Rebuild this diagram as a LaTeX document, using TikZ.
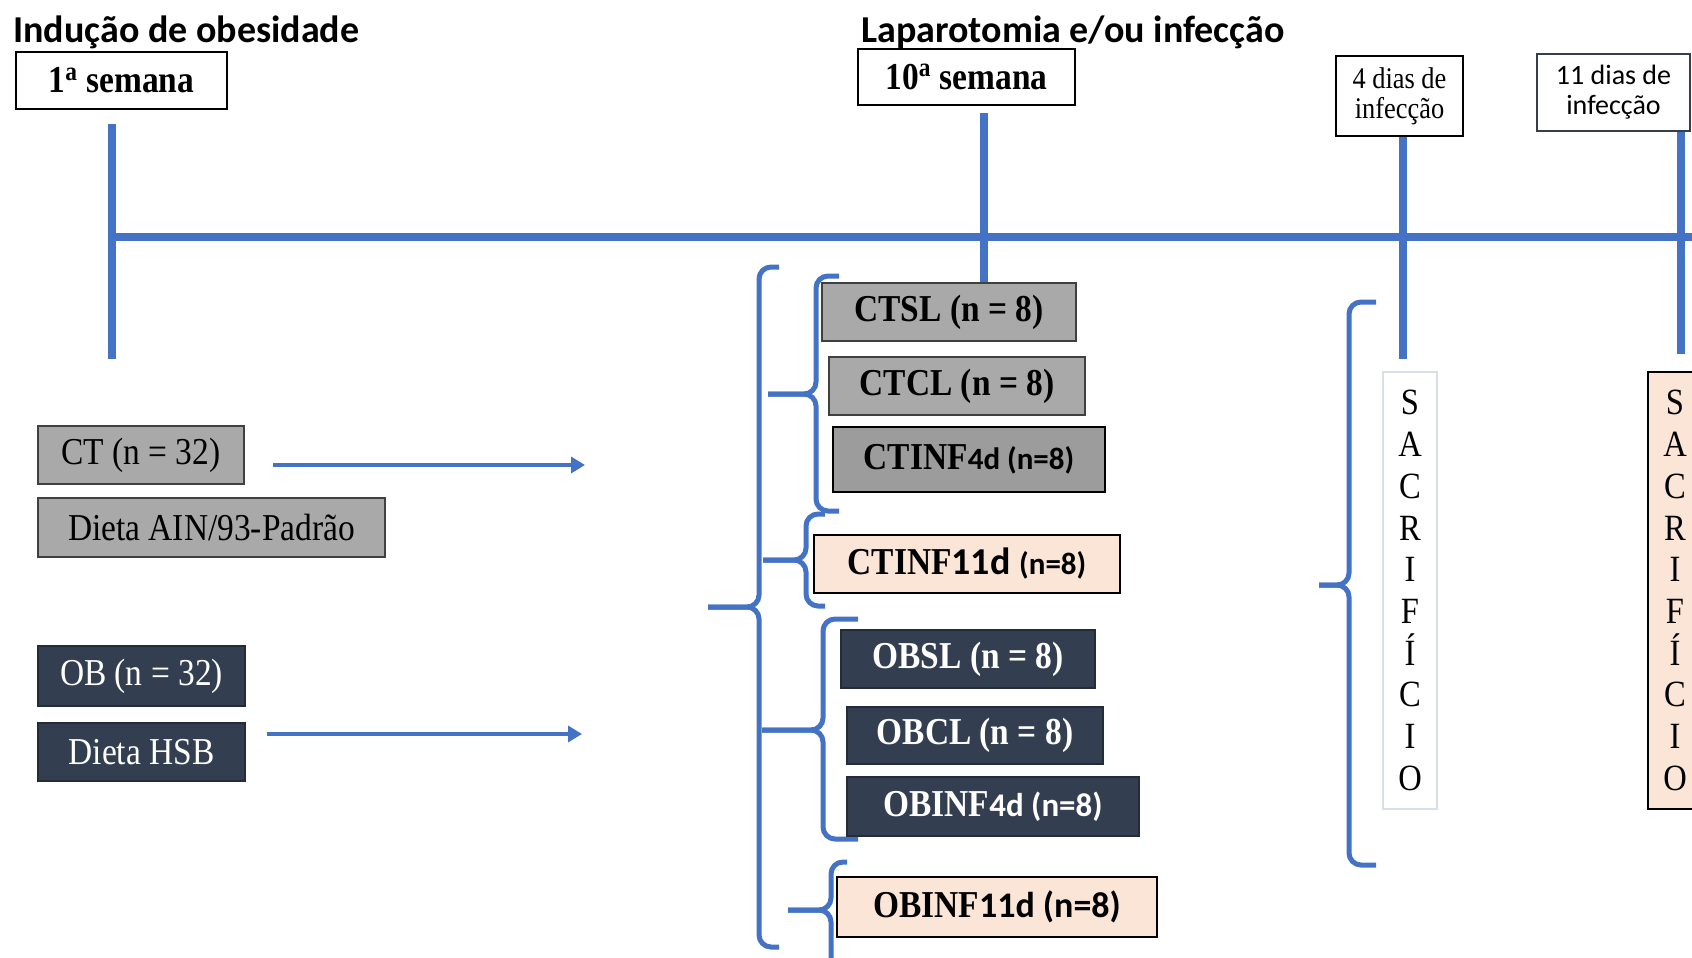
\documentclass[tikz,border=0pt]{standalone}
\usepackage{fontspec}
\setmainfont[FakeStretch=0.88]{Liberation Serif}
\newfontfamily\calib{Carlito}
\usepackage{xcolor}
\usepackage{tikz}
\usetikzlibrary{arrows.meta}
\definecolor{tlblue}{HTML}{4472C4}
\definecolor{boxgray}{HTML}{A9A9A9}
\definecolor{boxgrayd}{HTML}{9C9C9C}
\definecolor{boxnavy}{HTML}{333F50}
\definecolor{boxtan}{HTML}{FBE5D6}
\definecolor{sacline}{HTML}{D9DFEA}
\tikzset{wk/.style={rectangle,draw=black,line width=1pt,fill=white,inner sep=0pt,font=\bfseries\fontsize{19}{21}\selectfont},
  dias/.style={rectangle,draw=black,line width=1pt,fill=white,inner sep=0pt,align=center,font=\fontsize{15}{15}\selectfont},
  gry/.style={rectangle,draw=black!75,line width=0.8pt,fill=boxgray,inner sep=0pt,font=\fontsize{19}{21}\selectfont},
  nvy/.style={rectangle,draw=boxnavy!70!black,line width=0.8pt,fill=boxnavy,text=white,inner sep=0pt,font=\fontsize{19}{21}\selectfont},
  peach/.style={rectangle,draw=black,line width=1pt,fill=boxtan,inner sep=0pt,font=\fontsize{19}{21}\selectfont},
  sac/.style={rectangle,inner sep=0pt,minimum width=27pt,minimum height=218.5pt,align=center,font=\fontsize{18.5}{20.85}\selectfont},
  tl/.style={draw=tlblue,line width=4pt},
  brc/.style={draw=tlblue,line width=2.5pt,rounded corners=6pt},
  arr/.style={->,draw=tlblue,fill=tlblue,line width=2pt},
  ttl/.style={anchor=west,inner sep=0pt,font=\calib\bfseries\fontsize{19}{21}\selectfont}}

\begin{document}
\begin{tikzpicture}[x=0.5pt,y=-0.5pt,>={Triangle[length=7pt,width=8pt]}]
        \useasboundingbox (0,0) rectangle (1692,958);
        \clip (0,0) rectangle (1692,958);

        % timeline
        \coordinate (l1a) at (112,124);
        \coordinate (l1b) at (112,359);
        \coordinate (l2a) at (984,113);
        \coordinate (l2b) at (984,285);
        \coordinate (l3a) at (1403,136);
        \coordinate (l3b) at (1403,359);
        \coordinate (l4a) at (1681,131);
        \coordinate (l4b) at (1681,354);
        \coordinate (tl0) at (110,237);
        \coordinate (tl1) at (1700,237);
        \draw[tl] (tl0) -- (tl1);
        \draw[tl] (l1a) -- (l1b);
        \draw[tl] (l2a) -- (l2b);
        \draw[tl] (l3a) -- (l3b);
        \draw[tl] (l4a) -- (l4b);

        % titles
        \node[ttl] (ind) at (13,32) {Indução de obesidade};
        \node[ttl] (lap) at (861,32) {Laparotomia e/ou infecção};

        \node[wk,minimum width=105.5pt,minimum height=28.5pt] (sem1) at (121.5,80.5) {1\textsuperscript{a} semana};
        \node[wk,minimum width=108.5pt,minimum height=28pt] (sem10) at (966.5,77) {10\textsuperscript{a} semana};
        \node[dias,minimum width=63.5pt,minimum height=40pt] (d4) at (1399.5,96) {4 dias de\\infecção};
        \node[dias,draw=boxnavy,line width=0.7pt,font=\calib\fontsize{14}{15}\selectfont,minimum width=76.5pt,minimum height=38.5pt] (d11) at (1613.5,92.5) {11 dias de\\infecção};

        % groups
        \node[gry,minimum width=103pt,minimum height=29pt] (ct) at (141,455) {CT (n = 32)};
        \node[gry,minimum width=173.5pt,minimum height=29.5pt] (ain) at (211.5,527.5) {Dieta AIN/93-Padrão};
        \node[nvy,minimum width=103.5pt,minimum height=30pt] (ob) at (141.5,676) {OB (n = 32)};
        \node[nvy,minimum width=103.5pt,minimum height=29pt] (hsb) at (141.5,752) {Dieta HSB};

        \coordinate (cta) at (273,465);
        \coordinate (ctb) at (585,465);
        \coordinate (hsba) at (267,734);
        \coordinate (hsbb) at (582,734);
        \draw[arr] (cta) -- (ctb);
        \draw[arr] (hsba) -- (hsbb);

        % braces
        \draw[brc] (779,267) -- (759,267) -- (759,607) -- (708,607);
        \draw[brc] (708,607) -- (759,607) -- (759,947) -- (779,947);
        \draw[brc] (839,276) -- (816,276) -- (816,394) -- (768,394);
        \draw[brc] (768,394) -- (816,394) -- (816,511) -- (839,511);
        \draw[brc] (825,514) -- (806,514) -- (806,560) -- (763,560);
        \draw[brc] (763,560) -- (806,560) -- (806,606) -- (825,606);
        \draw[brc] (858,619) -- (823,619) -- (823,730) -- (762,730);
        \draw[brc] (762,730) -- (823,730) -- (823,839) -- (858,839);
        \draw[brc] (847,862) -- (831,862) -- (831,910) -- (788,910);
        \draw[brc] (788,910) -- (831,910) -- (831,975) -- (847,975);
        \draw[brc] (1376,302) -- (1349,302) -- (1349,585) -- (1319,585);
        \draw[brc] (1319,585) -- (1349,585) -- (1349,865) -- (1376,865);

        % subgroups
        \node[gry,minimum width=127pt,minimum height=29pt] (ctsl) at (949,312) {\bfseries CTSL (n = 8)};
        \node[gry,minimum width=128pt,minimum height=29pt] (ctcl) at (957,386) {\bfseries CTCL (n = 8)};
        \node[gry,fill=boxgrayd,draw=black,line width=1pt,minimum width=136pt,minimum height=32.5pt] (ct4) at (969,459.5) {\bfseries CTINF{\calib\fontsize{15.5}{17}\selectfont 4d (n=8)}};
        \node[peach,minimum width=153pt,minimum height=29pt] (ct11) at (967,564) {\bfseries CTINF{\calib 11d \fontsize{15.5}{17}\selectfont (n=8)}};
        \node[nvy,minimum width=127pt,minimum height=29pt] (obsl) at (968,659) {\bfseries OBSL (n = 8)};
        \node[nvy,minimum width=128pt,minimum height=28.5pt] (obcl) at (975,735.5) {\bfseries OBCL (n = 8)};
        \node[nvy,minimum width=146pt,minimum height=29.5pt] (ob4) at (993,806.5) {\bfseries OBINF{\calib\fontsize{16.5}{18}\selectfont 4d (n=8)}};
        \node[peach,minimum width=160pt,minimum height=30pt] (ob11) at (997,907) {\bfseries OBINF{\calib\fontsize{18}{20}\selectfont 11d (n=8)}};

        % sacrificio
        \node[sac,draw=sacline,line width=0.6pt,fill=white] (sac4) at (1410,590.5) {S\\A\\C\\R\\I\\F\\Í\\C\\I\\O};
        \node[sac,draw=black,line width=1pt,fill=boxtan] (sac11) at (1675,590.5) {S\\A\\C\\R\\I\\F\\Í\\C\\I\\O};
    \end{tikzpicture}
\end{document}
